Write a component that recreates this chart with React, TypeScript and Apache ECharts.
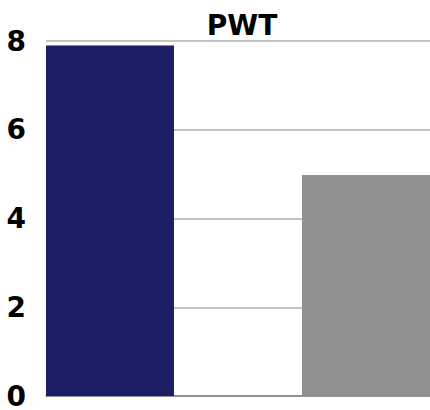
import React, { useEffect, useRef } from "react";
import * as echarts from "echarts";

const categories = ["PWT"];
const seriesNames = ["Series 1", "Series 2"];
const seriesA = [7.9];
const seriesB = [4.98];
const yTicks = [0, 2, 4, 6, 8];

export default function App() {
  const ref = useRef<HTMLDivElement>(null);
  useEffect(() => {
    if (!ref.current) return;
    const chart = echarts.init(ref.current, undefined, { renderer: "svg" });
    chart.setOption({
      animation: false,
      title: {
        text: categories[0],
        left: 237,
        top: 6,
        textAlign: "center",
        textStyle: { fontFamily: "DejaVu Sans", fontWeight: "bold", fontSize: 28, color: "#000" },
      },
      grid: { left: 46, right: 0, top: 41, bottom: 11, containLabel: false },
      xAxis: {
        type: "category",
        data: categories,
        axisLine: { show: true, lineStyle: { color: "#808080", width: 1.5 } },
        axisTick: { show: false },
        axisLabel: { show: false },
      },
      yAxis: {
        type: "value",
        min: yTicks[0],
        max: yTicks[yTicks.length - 1],
        interval: 2,
        axisLine: { show: false },
        axisTick: { show: false },
        splitLine: { lineStyle: { color: "#c4c4c4", width: 2 } },
        axisLabel: {
          margin: 20,
          fontFamily: "DejaVu Sans",
          fontWeight: "bold",
          fontSize: 28,
          color: "#000",
        },
      },
      series: [
        {
          name: seriesNames[0],
          type: "bar",
          data: seriesA,
          itemStyle: { color: "#1c1f66" },
          barCategoryGap: "0%",
          barGap: "100%",
        },
        {
          name: seriesNames[1],
          type: "bar",
          data: seriesB,
          itemStyle: { color: "#909090" },
          barCategoryGap: "0%",
          barGap: "100%",
        },
      ],
    });
    return () => chart.dispose();
  }, []);
  return <div ref={ref} style={{ width: 430, height: 410, position: "absolute", left: 0, top: 0 }} />;
}
